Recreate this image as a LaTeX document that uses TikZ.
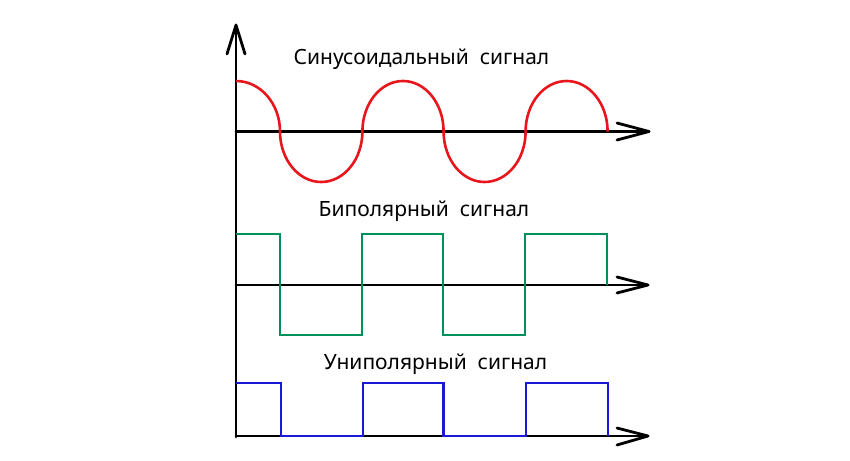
\documentclass[tikz,border=0pt]{standalone}
\usepackage{fontspec}
\setmainfont{Noto Sans}
\definecolor{sinred}{HTML}{E8161C}
\definecolor{bipgreen}{HTML}{00915A}
\definecolor{uniblue}{HTML}{1A1AD6}
\tikzset{
  axisline/.style={line width=2.8pt, black, line cap=round, line join=round},
  sigline/.style={line width=2.6pt, line join=miter},
  lbl/.style={font=\fontsize{21}{25}\selectfont, text=black, inner sep=0pt}
}
\begin{document}
\begin{tikzpicture}[x=1pt,y=-1pt]
\useasboundingbox (0,0) rectangle (850,460);
% vertical axis
\coordinate (vb) at (236,437);
\coordinate (vt) at (236,25);
\draw[axisline] (vb) -- (vt);
\draw[axisline] (227,54) -- (vt) -- (245,54);
% sine axis
\coordinate (s0) at (236,131.5);
\coordinate (s1) at (649,131.5);
\draw[axisline] (s0) -- (s1);
\draw[axisline] (617,123) -- (s1) -- (617,140);
% bipolar axis
\coordinate (b0) at (236,285);
\coordinate (b1) at (648,285);
\draw[axisline] (b0) -- (b1);
\draw[axisline] (617,277) -- (b1) -- (617,293);
% unipolar axis
\coordinate (u0) at (236,436);
\coordinate (u1) at (648,436);
\draw[axisline] (u0) -- (u1);
\draw[axisline] (617,428) -- (u1) -- (617,445);
% sine signal (semi-elliptic lobes)
\draw[sigline, sinred] (236,81)
  arc[start angle=-90, end angle=0, x radius=44, y radius=50.5]
  arc[start angle=180, end angle=0, x radius=41.2, y radius=50.5]
  arc[start angle=180, end angle=360, x radius=40.6, y radius=50.5]
  arc[start angle=180, end angle=0, x radius=41, y radius=50.5]
  arc[start angle=180, end angle=360, x radius=41, y radius=50.5];
% bipolar signal
\draw[sigline, bipgreen] (236,234) -- (280,234) -- (280,335) -- (362,335) -- (362,234)
  -- (443,234) -- (443,335) -- (525,335) -- (525,234) -- (607,234) -- (607,285);
% unipolar signal
\draw[sigline, uniblue] (236,383) -- (281,383) -- (281,436) -- (363,436) -- (363,383)
  -- (443.5,383) -- (443.5,436) -- (526,436) -- (526,383) -- (608,383) -- (608,436);
% labels
\node[lbl] (tsin) at (421.5,59) {Синусоидальный\ \ сигнал};
\node[lbl] (tbip) at (424,211) {Биполярный\ \ сигнал};
\node[lbl] (tuni) at (435.5,364) {Униполярный\ \ сигнал};
\end{tikzpicture}
\end{document}
